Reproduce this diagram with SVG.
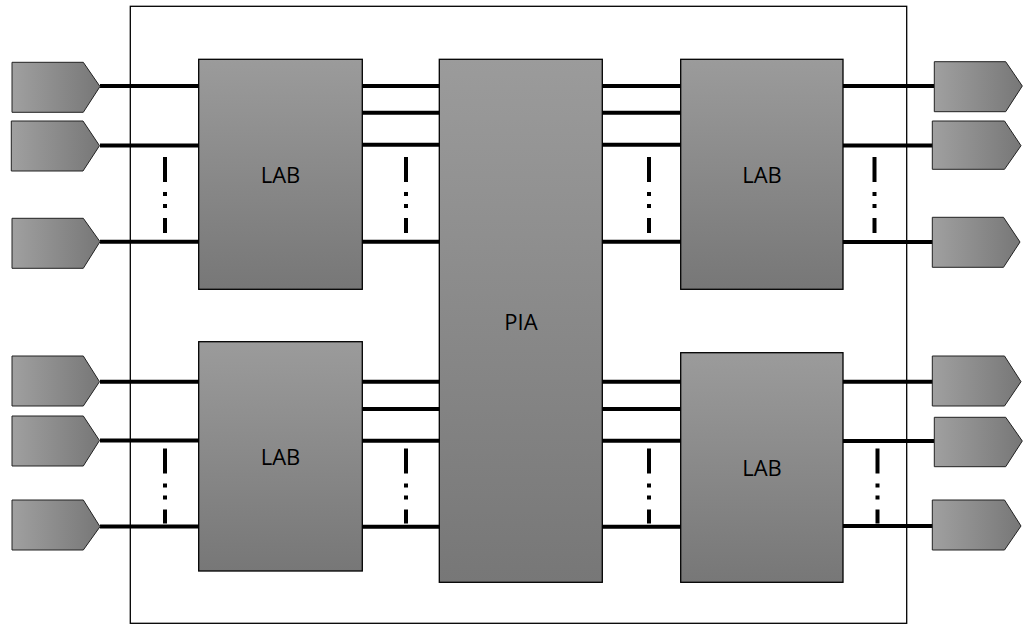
<svg xmlns="http://www.w3.org/2000/svg" width="1030" height="634" viewBox="0 0 1030 634">
<defs>
<linearGradient id="gv" x1="0" y1="0" x2="0" y2="1">
<stop offset="0" stop-color="#9b9b9b"/>
<stop offset="1" stop-color="#777777"/>
</linearGradient>
<linearGradient id="gh" x1="0" y1="0" x2="1" y2="0">
<stop offset="0" stop-color="#a0a0a0"/>
<stop offset="1" stop-color="#777777"/>
</linearGradient>
</defs>
<style>
.frame{fill:none;stroke:#000;stroke-width:1.3}
.box{fill:url(#gv);stroke:#000;stroke-width:1.3}
.pin{fill:url(#gh);stroke:#222;stroke-width:1}
.wire{stroke:#000;stroke-width:4;fill:none}
.dots{stroke:#000;stroke-width:4;fill:none;stroke-dasharray:25 10 4 8 4 10 25}
.lbl{font-family:"Open Sans","Liberation Sans",sans-serif;font-size:22px;fill:#000;text-anchor:middle}
</style>
<rect class="frame" x="130.3" y="6.3" width="776.4" height="617"/>
<g id="connectors">
<path class="wire" d="M100,86H199M100,145.5H199M100,241.7H199M100,381.7H199M100,440.5H199M100,526.5H199"/>
<path class="wire" d="M362,86H440M362,112.7H440M362,144.7H440M362,241.7H440M362,381.7H440M362,409H440M362,440.7H440M362,526.7H440"/>
<path class="wire" d="M602,86H681M602,112.7H681M602,144.7H681M602,241.7H681M602,381.7H681M602,409H681M602,440.7H681M602,526.7H681"/>
<path class="wire" d="M843,86H934M843,145.5H933M843,242H933M843,381.7H933M843,441H934M843,526H933"/>
<path class="dots" d="M165,157V233M406,157V233M649,157V233M874.5,157V233"/>
<path class="dots" d="M165,448.5V523.5M406,448.5V523.5M649,448.5V523.5M877.5,448.5V523.5"/>
</g>
<g id="pin-l1"><path class="pin" d="M12,62.3H83.3L100,86.5L83.3,112.3H12Z"/></g>
<g id="pin-l2"><path class="pin" d="M11.3,121H83L99.5,145.7L83,171H11.3Z"/></g>
<g id="pin-l3"><path class="pin" d="M12,218.3H83.3L100,241.7L83.3,268.3H12Z"/></g>
<g id="pin-l4"><path class="pin" d="M12,356H83.3L99.5,381.7L83.3,406H12Z"/></g>
<g id="pin-l5"><path class="pin" d="M12,416H83.3L99.5,440.5L83.3,466H12Z"/></g>
<g id="pin-l6"><path class="pin" d="M12,500H83.3L100,526.7L83.3,550H12Z"/></g>
<g id="pin-r1"><path class="pin" d="M934.3,61.7H1005.7L1022.3,86L1005.7,111.7H934.3Z"/></g>
<g id="pin-r2"><path class="pin" d="M932.3,121H1004.5L1021,145.7L1004.5,169.3H932.3Z"/></g>
<g id="pin-r3"><path class="pin" d="M932.3,217.3H1003.5L1020,242L1003.5,267.3H932.3Z"/></g>
<g id="pin-r4"><path class="pin" d="M932.3,356H1004.5L1021,381.7L1004.5,406H932.3Z"/></g>
<g id="pin-r5"><path class="pin" d="M934.3,417.3H1005.7L1022.3,441L1005.7,466.7H934.3Z"/></g>
<g id="pin-r6"><path class="pin" d="M932.3,500H1004.5L1021,526L1004.5,550H932.3Z"/></g>
<g id="lab-tl"><rect class="box" x="198.7" y="59.3" width="163.6" height="230"/><text class="lbl" x="280.5" y="183">LAB</text></g>
<g id="lab-bl"><rect class="box" x="198.7" y="341.7" width="163.6" height="229.3"/><text class="lbl" x="280.5" y="465">LAB</text></g>
<g id="pia"><rect class="box" x="439.3" y="59.3" width="163" height="523"/><text class="lbl" x="521" y="330">PIA</text></g>
<g id="lab-tr"><rect class="box" x="680.7" y="59.3" width="162.3" height="230"/><text class="lbl" x="762" y="183">LAB</text></g>
<g id="lab-br"><rect class="box" x="680.7" y="352.7" width="162.3" height="229.6"/><text class="lbl" x="762" y="476">LAB</text></g>
</svg>
